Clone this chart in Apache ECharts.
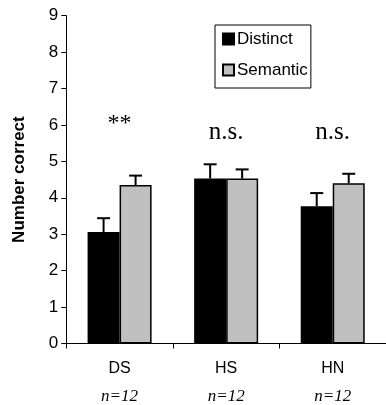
<!DOCTYPE html>
<html>
<head>
<meta charset="utf-8">
<script src="https://cdn.jsdelivr.net/npm/echarts@6/dist/echarts.min.js"></script>
<style>
  html, body { margin: 0; padding: 0; background: #fff; }
  #chart { width: 386px; height: 405px; }
</style>
</head>
<body>
<div id="chart"></div>
<script>
// Recall scores per condition
const categories = ['DS', 'HS', 'HN'];
const sampleSizes = [12, 12, 12];
const distinctMean = [3.06, 4.53, 3.77];
const distinctErr = [0.38, 0.39, 0.36];
const semanticMean = [4.35, 4.53, 4.40];
const semanticErr = [0.26, 0.25, 0.26];
// Significance labels and the heights they sit at
const sigLabels = ['**', 'n.s.', 'n.s.'];
const sigHeights = [6.03, 5.8, 5.8];
const yTicks = [0, 1, 2, 3, 4, 5, 6, 7, 8, 9];

const BAR_W = 32;
const SANS = '"Liberation Sans", Arial, sans-serif';
const SERIF = '"Liberation Serif", "Times New Roman", serif';

function errorBars(means, errs, side) {
  return {
    type: 'custom',
    z: 5,
    silent: true,
    data: means.map((m, i) => [i, m, errs[i]]),
    renderItem(params, api) {
      const i = api.value(0);
      const base = api.coord([i, api.value(1)]);
      const tip = api.coord([i, api.value(1) + api.value(2)]);
      const x = base[0] + side * BAR_W / 2;
      const style = { stroke: '#000', lineWidth: 2 };
      return {
        type: 'group',
        children: [
          { type: 'line', shape: { x1: x, y1: base[1], x2: x, y2: tip[1] }, style },
          { type: 'line', shape: { x1: x - 6.5, y1: tip[1], x2: x + 6.5, y2: tip[1] }, style }
        ]
      };
    }
  };
}

const chart = echarts.init(document.getElementById('chart'), null, { renderer: 'canvas' });
chart.setOption({
  animation: false,
  backgroundColor: '#fff',
  grid: { left: 66.3, top: 15.7, bottom: 60.7, right: -3.7 },
  legend: {
    orient: 'vertical',
    left: 215,
    top: 25,
    data: [{ name: 'Distinct', icon: 'rect' }, { name: 'Semantic', icon: 'rect' }],
    itemWidth: 11,
    itemHeight: 11,
    itemGap: 11,
    padding: [4, 3, 8, 7],
    borderColor: '#000',
    borderWidth: 1,
    textStyle: { fontFamily: SANS, fontSize: 17, color: '#000', lineHeight: 20, padding: [0, 0, 0, -2] }
  },
  xAxis: {
    type: 'category',
    data: categories,
    axisLine: { lineStyle: { color: '#000', width: 1 } },
    axisTick: { show: true, length: 5, lineStyle: { color: '#000' } },
    axisLabel: {
      margin: 15,
      formatter: (v, i) => '{a|' + v + '}\n{b|n=' + sampleSizes[i] + '}',
      rich: {
        a: { fontFamily: SANS, fontSize: 16, color: '#000', lineHeight: 20 },
        b: { fontFamily: SERIF, fontStyle: 'italic', fontSize: 17, color: '#000', lineHeight: 36 }
      }
    }
  },
  yAxis: {
    type: 'value',
    min: yTicks[0],
    max: yTicks[yTicks.length - 1],
    interval: 1,
    name: 'Number correct',
    nameLocation: 'middle',
    nameGap: 38,
    nameTextStyle: { fontFamily: SANS, fontSize: 17, fontWeight: 'bold', color: '#000' },
    splitLine: { show: false },
    axisLine: { show: true, lineStyle: { color: '#000', width: 1 } },
    axisTick: { show: true, length: 5, lineStyle: { color: '#000' } },
    axisLabel: { fontFamily: SANS, fontSize: 17, color: '#000', margin: 8 }
  },
  series: [
    {
      name: 'Distinct',
      type: 'bar',
      data: distinctMean,
      barWidth: BAR_W,
      barGap: '0%',
      itemStyle: { color: '#000', borderColor: '#000', borderWidth: 1.5 }
    },
    {
      name: 'Semantic',
      type: 'bar',
      data: semanticMean,
      barWidth: BAR_W,
      barGap: '0%',
      itemStyle: { color: '#c0c0c0', borderColor: '#000', borderWidth: 1.5 }
    },
    errorBars(distinctMean, distinctErr, -1),
    errorBars(semanticMean, semanticErr, 1),
    {
      type: 'custom',
      z: 6,
      silent: true,
      data: sigLabels.map((t, i) => [i, sigHeights[i]]),
      renderItem(params, api) {
        const p = api.coord([api.value(0), api.value(1)]);
        const txt = sigLabels[params.dataIndex];
        return {
          type: 'text',
          style: {
            text: txt,
            x: p[0],
            y: p[1],
            align: 'center',
            verticalAlign: 'middle',
            font: (txt === '**' ? '24px ' : '25px ') + SERIF,
            fill: '#000'
          }
        };
      }
    }
  ]
});
</script>
</body>
</html>
